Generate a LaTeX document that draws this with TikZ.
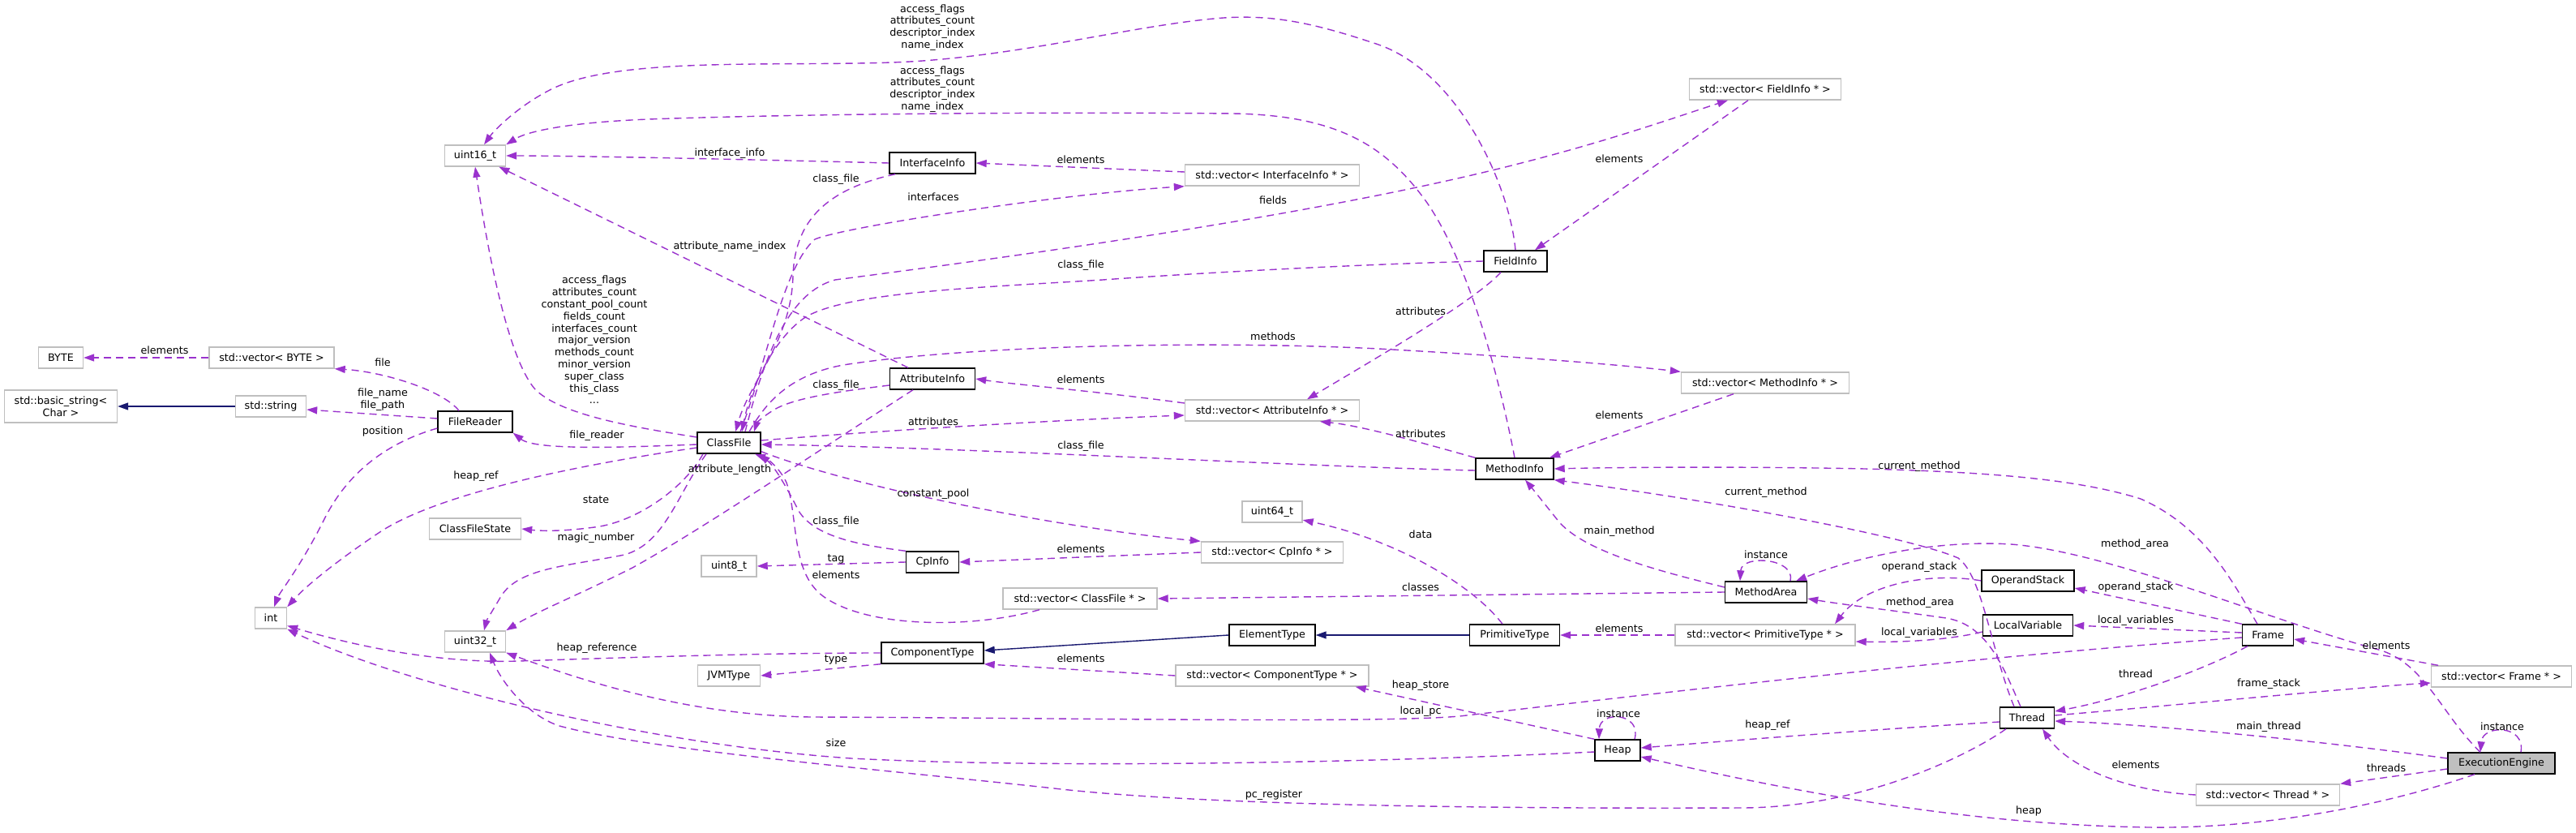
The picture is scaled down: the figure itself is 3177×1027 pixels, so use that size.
\documentclass[tikz,border=0pt]{standalone}
\usepackage{fontspec}
\usetikzlibrary{arrows.meta}
\newfontfamily\dvfont{DejaVu Sans}
\newcommand\lblfont{\dvfont\fontsize{12.7pt}{14.8pt}\selectfont}
\definecolor{depcol}{HTML}{9A32CD}
\definecolor{inhcol}{HTML}{191970}
\definecolor{greyb}{HTML}{BFBFBF}
\tikzset{
  cls/.style={draw=black, line width=1.4pt, minimum height=26pt, inner sep=0pt, font=\lblfont, fill=white},
  ext/.style={draw=greyb, line width=1.4pt, minimum height=26pt, inner sep=0pt, font=\lblfont, fill=white},
  dep/.style={draw=depcol, line width=1.4pt, dash pattern=on 9pt off 6pt, -{Triangle[length=13pt,width=9pt]}},
  inh/.style={draw=inhcol, line width=1.4pt, -{Triangle[length=13pt,width=9pt]}},
  elab/.style={font=\lblfont, inner sep=0pt, align=center, text=black}
}
\begin{document}
\begin{tikzpicture}[x=1pt,y=-1pt]
\useasboundingbox (0,0) rectangle (3177,1027);
% nodes
\node[ext, minimum width=75pt] (uint16) at (586,192) {uint16\_t};
\node[ext, minimum width=55pt] (BYTE) at (75,441) {BYTE};
\node[ext, minimum width=154pt] (vecBYTE) at (335,441) {std::vector< BYTE >};
\node[ext, minimum width=139pt, minimum height=40pt, align=center] (bstring) at (75,501) {std::basic\_string<\\Char >};
\node[ext, minimum width=87pt] (string) at (334,501) {std::string};
\node[cls, minimum width=92pt] (FileReader) at (586,520) {FileReader};
\node[ext, minimum width=113pt] (CFState) at (586,652) {ClassFileState};
\node[ext, minimum width=39pt] (int) at (334,762) {int};
\node[ext, minimum width=75pt] (uint32) at (586,791) {uint32\_t};
\node[cls, minimum width=78pt] (ClassFile) at (899,546) {ClassFile};
\node[ext, minimum width=68pt] (uint8) at (899,698) {uint8\_t};
\node[ext, minimum width=77pt] (JVMType) at (899,833) {JVMType};
\node[cls, minimum width=106pt] (InterfaceInfo) at (1150,201) {InterfaceInfo};
\node[cls, minimum width=105pt] (AttributeInfo) at (1150,467) {AttributeInfo};
\node[cls, minimum width=65pt] (CpInfo) at (1150,693) {CpInfo};
\node[cls, minimum width=126pt] (ComponentType) at (1150,805) {ComponentType};
\node[ext, minimum width=190pt] (vecClassFile) at (1332,738) {std::vector< ClassFile * >};
\node[ext, minimum width=215pt] (vecInterface) at (1569,216) {std::vector< InterfaceInfo * >};
\node[ext, minimum width=215pt] (vecAttr) at (1569,506) {std::vector< AttributeInfo * >};
\node[ext, minimum width=74pt] (uint64) at (1569,631) {uint64\_t};
\node[ext, minimum width=175pt] (vecCp) at (1569,681) {std::vector< CpInfo * >};
\node[cls, minimum width=106pt] (ElementType) at (1569,783) {ElementType};
\node[ext, minimum width=238pt] (vecComp) at (1569,833) {std::vector< ComponentType * >};
\node[cls, minimum width=78pt] (FieldInfo) at (1869,322) {FieldInfo};
\node[cls, minimum width=96pt] (MethodInfo) at (1868,578) {MethodInfo};
\node[cls, minimum width=111pt] (PrimitiveType) at (1868,783) {PrimitiveType};
\node[cls, minimum width=56pt] (Heap) at (1995,925) {Heap};
\node[ext, minimum width=187pt] (vecField) at (2177,110) {std::vector< FieldInfo * >};
\node[ext, minimum width=207pt] (vecMethod) at (2177,472) {std::vector< MethodInfo * >};
\node[cls, minimum width=101pt] (MethodArea) at (2178,730) {MethodArea};
\node[ext, minimum width=222pt] (vecPrim) at (2177,783) {std::vector< PrimitiveType * >};
\node[cls, minimum width=114pt] (OperandStack) at (2501,716) {OperandStack};
\node[cls, minimum width=111pt] (LocalVariable) at (2501,771) {LocalVariable};
\node[cls, minimum width=67pt] (Thread) at (2500,885) {Thread};
\node[cls, minimum width=63pt] (Frame) at (2797,783) {Frame};
\node[ext, minimum width=177pt] (vecThread) at (2797,980) {std::vector< Thread * >};
\node[ext, minimum width=173pt] (vecFrame) at (3085,834) {std::vector< Frame * >};
\node[cls, minimum width=132pt, fill=greyb] (EE) at (3085,941) {ExecutionEngine};
% edges
\draw[dep] (FieldInfo.north) .. controls (1862,230) and (1800,90) .. (1700,55) .. controls (1620,28) and (1570,18) .. (1509,22) .. controls (1400,30) and (1250,72) .. (1100,77) .. controls (950,82) and (760,70) .. (680,110) .. controls (640,130) and (610,160) .. ([xshift=11pt]uint16.north);
\draw[dep] (MethodInfo.north) .. controls (1852,480) and (1815,330) .. (1760,250) .. controls (1710,180) and (1650,142) .. (1520,140) .. controls (1300,138) and (1000,140) .. (800,147) .. controls (700,151) and (650,162) .. (uint16.north east);
\draw[dep] (InterfaceInfo.west) .. controls (900,196) and (700,192) .. (uint16.east);
\draw[dep] ([xshift=-30pt]AttributeInfo.north) -- (uint16.-25);
\draw[dep] (ClassFile.170) .. controls (770,525) and (690,510) .. (660,480) .. controls (625,440) and (600,300) .. (uint16.south);
\draw[dep] ([yshift=4pt]vecInterface.west) -- (InterfaceInfo.east);
\draw[dep] ([xshift=8pt]InterfaceInfo.south west) .. controls (1010,235) and (980,280) .. (978,340) .. controls (976,420) and (925,470) .. ([xshift=8pt]ClassFile.north);
\draw[dep] ([xshift=14pt]ClassFile.north) .. controls (945,450) and (965,330) .. (1005,295) .. controls (1040,280) and (1300,240) .. (vecInterface.south west);
\draw[dep] ([xshift=20pt]ClassFile.north) .. controls (945,430) and (975,360) .. (1030,345) .. controls (1300,310) and (1650,260) .. (1880,200) .. controls (1990,172) and (2080,140) .. ([xshift=-46pt]vecField.south);
\draw[dep] (FieldInfo.west) .. controls (1700,325) and (1500,335) .. (1360,345) .. controls (1200,355) and (1050,360) .. (995,390) .. controls (955,415) and (925,480) .. ([xshift=16pt]ClassFile.north);
\draw[dep] ([yshift=-8pt]AttributeInfo.west) .. controls (1040,482) and (980,490) .. (955,505) .. controls (940,514) and (933,522) .. ([xshift=31pt]ClassFile.north);
\draw[dep] ([xshift=25pt]ClassFile.north) .. controls (945,495) and (975,462) .. (1040,450) .. controls (1200,425) and (1500,420) .. (1700,430) .. controls (1880,440) and (2000,450) .. (vecMethod.north west);
\draw[dep] ([yshift=3pt]ClassFile.east) .. controls (1100,530) and (1300,518) .. ([yshift=-6pt]vecAttr.west);
\draw[dep] ([yshift=9pt]vecAttr.west) .. controls (1350,482) and (1250,474) .. (AttributeInfo.east);
\draw[dep] ([yshift=-2pt]MethodInfo.west) .. controls (1600,575) and (1200,552) .. ([yshift=-2pt]ClassFile.east);
\draw[dep] (CpInfo.north west) .. controls (1060,672) and (1005,662) .. (985,630) .. controls (970,600) and (955,575) .. ([xshift=-2pt]ClassFile.south east);
\draw[dep] ([xshift=-50pt]vecClassFile.south) .. controls (1200,775) and (1070,775) .. (1015,735) .. controls (975,705) and (985,640) .. (970,595) .. controls (962,578) and (948,566) .. ([xshift=32pt]ClassFile.south);
\draw[dep] (ClassFile.-15) .. controls (1050,600) and (1300,650) .. (vecCp.north west);
\draw[dep] (vecCp.west) -- (CpInfo.east);
\draw[dep] (CpInfo.west) -- (uint8.east);
\draw[dep] ([xshift=-24pt]AttributeInfo.south) .. controls (1010,555) and (870,650) .. (780,700) .. controls (710,735) and (660,755) .. (uint32.north east);
\draw[dep] ([xshift=-28pt]ClassFile.south) .. controls (835,610) and (820,670) .. (770,684) .. controls (700,698) and (640,700) .. (618,735) .. controls (608,752) and (600,765) .. ([xshift=11pt]uint32.north);
\draw[dep] ([yshift=-6pt]ClassFile.west) .. controls (700,575) and (540,610) .. (470,655) .. controls (410,695) and (375,725) .. (int.north east);
\draw[dep] ([yshift=-2pt]ClassFile.west) .. controls (760,552) and (660,555) .. (FileReader.south east);
\draw[dep] ([xshift=-32pt]ClassFile.south) .. controls (845,600) and (790,640) .. (740,649) .. controls (700,655) and (670,655) .. (CFState.east);
\draw[dep] ([xshift=-20pt]FileReader.north) .. controls (545,480) and (470,458) .. (vecBYTE.south east);
\draw[dep] (vecBYTE.west) -- (BYTE.east);
\draw[inh] (string.west) -- (bstring.east);
\draw[dep] ([yshift=4pt]FileReader.west) -- ([yshift=-4pt]string.east);
\draw[dep] ([yshift=-8pt]FileReader.west) .. controls (480,545) and (430,580) .. (400,640) .. controls (370,700) and (345,730) .. ([xshift=4pt]int.north);
\draw[dep] (ComponentType.west) .. controls (950,805) and (790,810) .. (640,815) .. controls (550,818) and (450,800) .. (int.-25);
\draw[dep] ([yshift=-2pt]Heap.west) .. controls (1700,940) and (1300,948) .. (1050,935) .. controls (800,918) and (500,845) .. (int.south east);
\draw[dep] (ComponentType.south west) -- (JVMType.east);
\draw[inh] (ElementType.west) -- ([yshift=3pt]ComponentType.east);
\draw[inh] (PrimitiveType.west) -- (ElementType.east);
\draw[dep] (vecComp.west) -- (ComponentType.south east);
\draw[dep] ([xshift=-15pt]PrimitiveType.north) .. controls (1815,720) and (1720,665) .. (uint64.-15);
\draw[dep] (vecPrim.west) -- (PrimitiveType.east);
\draw[dep] (MethodArea.west) -- (vecClassFile.east);
\draw[dep] ([xshift=30pt]MethodArea.north) .. controls (2215,688) and (2148,683) .. ([xshift=-32pt]MethodArea.north);
\draw[dep] ([yshift=6pt]MethodArea.west) .. controls (2050,705) and (1950,680) .. (1920,640) .. controls (1900,615) and (1888,600) .. ([xshift=13pt]MethodInfo.south);
\draw[dep] (MethodInfo.north west) .. controls (1750,545) and (1680,525) .. ([xshift=59pt]vecAttr.south);
\draw[dep] ([xshift=-39pt]vecMethod.south) -- ([xshift=43pt]MethodInfo.north);
\draw[dep] ([xshift=-18pt]FieldInfo.south) .. controls (1820,370) and (1700,440) .. ([xshift=43pt]vecAttr.north);
\draw[dep] ([xshift=-21pt]vecField.south) -- ([xshift=24pt]FieldInfo.north);
\draw[dep] ([xshift=-13pt]Frame.north) .. controls (2755,720) and (2720,650) .. (2640,615) .. controls (2560,590) and (2450,582) .. (2300,578) .. controls (2150,575) and (2000,576) .. (MethodInfo.east);
\draw[dep] ([xshift=-16pt]Thread.north) .. controls (2455,800) and (2445,710) .. (2415,688) .. controls (2350,660) and (2100,615) .. (MethodInfo.south east);
\draw[dep] ([xshift=-8pt]Thread.north) .. controls (2470,820) and (2450,770) .. (2400,762) .. controls (2330,752) and (2270,745) .. ([yshift=-8pt]MethodArea.east);
\draw[dep] ([xshift=-26pt]EE.north) .. controls (3010,880) and (2990,815) .. (2930,800) .. controls (2800,765) and (2600,680) .. (2480,671) .. controls (2380,665) and (2280,690) .. ([xshift=37pt]MethodArea.north);
\draw[dep] (Frame.north west) -- ([yshift=-9pt]OperandStack.east);
\draw[dep] ([yshift=3pt]Frame.west) -- (LocalVariable.east);
\draw[dep] ([yshift=-3pt]Frame.west) .. controls (2400,812) and (2000,860) .. (1800,883) .. controls (1700,892) and (1300,885) .. (1000,884) .. controls (850,882) and (720,840) .. (uint32.south east);
\draw[dep] ([xshift=-25pt]Frame.south) .. controls (2700,835) and (2600,865) .. ([yshift=8pt]Thread.east);
\draw[dep] ([yshift=3pt]Thread.east) .. controls (2700,868) and (2900,848) .. ([yshift=-8pt]vecFrame.west);
\draw[dep] ([xshift=-78pt]vecFrame.north) -- ([yshift=-5pt]Frame.east);
\draw[dep] ([yshift=6pt]EE.west) .. controls (2850,912) and (2650,893) .. ([yshift=-4pt]Thread.east);
\draw[dep] ([yshift=-7pt]EE.west) -- (vecThread.north east);
\draw[dep] (vecThread.west) .. controls (2620,975) and (2550,945) .. ([xshift=19pt]Thread.south);
\draw[dep] ([xshift=-33pt]EE.south) .. controls (2950,990) and (2800,1022) .. (2650,1020) .. controls (2450,1017) and (2250,985) .. ([yshift=-8pt]Heap.east);
\draw[dep] ([xshift=24pt]EE.north) .. controls (3115,893) and (3062,893) .. ([xshift=-26pt]EE.north);
\draw[dep] ([yshift=-5pt]Thread.west) .. controls (2300,900) and (2150,912) .. ([yshift=3pt]Heap.east);
\draw[dep] ([xshift=21pt]Heap.north) .. controls (2025,878) and (1973,876) .. ([xshift=-23pt]Heap.north);
\draw[dep] (Heap.north west) -- ([xshift=-17pt]vecComp.south east);
\draw[dep] ([xshift=-26pt]Thread.south) .. controls (2430,930) and (2300,995) .. (2150,996) .. controls (1900,997) and (1500,995) .. (1300,972) .. controls (1100,950) and (800,925) .. (690,895) .. controls (650,882) and (618,840) .. ([xshift=18pt]uint32.south);
\draw[dep] (OperandStack.west) .. controls (2380,705) and (2300,720) .. ([xshift=86pt]vecPrim.north);
\draw[dep] ([yshift=-8pt]LocalVariable.west) .. controls (2400,790) and (2340,792) .. ([yshift=-8pt]vecPrim.east);
% labels
\node[elab] (l1) at (1150,34) {access\_flags\\attributes\_count\\descriptor\_index\\name\_index};
\node[elab] (l2) at (1150,110) {access\_flags\\attributes\_count\\descriptor\_index\\name\_index};
\node[elab] (l3) at (900,189) {interface\_info};
\node[elab] (l4) at (900,304) {attribute\_name\_index};
\node[elab] (l5) at (733,419) {access\_flags\\attributes\_count\\constant\_pool\_count\\fields\_count\\interfaces\_count\\major\_version\\methods\_count\\minor\_version\\super\_class\\this\_class\\...};
\node[elab] (l6) at (1333,197) {elements};
\node[elab] (l7) at (1031,221) {class\_file};
\node[elab] (l8) at (1151,243) {interfaces};
\node[elab] (l9) at (1570,247) {fields};
\node[elab] (l10) at (1333,327) {class\_file};
\node[elab] (l11) at (1997,196) {elements};
\node[elab] (l12) at (1031,475) {class\_file};
\node[elab] (l13) at (1570,415) {methods};
\node[elab] (l14) at (1333,468) {elements};
\node[elab] (l15) at (1151,520) {attributes};
\node[elab] (l16) at (1333,550) {class\_file};
\node[elab] (l17) at (900,579) {attribute\_length};
\node[elab] (l18) at (1151,609) {constant\_pool};
\node[elab] (l19) at (1031,643) {class\_file};
\node[elab] (l20) at (1333,677) {elements};
\node[elab] (l21) at (1031,689) {tag};
\node[elab] (l22) at (1031,709) {elements};
\node[elab] (l23) at (472,447) {file};
\node[elab] (l24) at (203,432) {elements};
\node[elab] (l25) at (472,493) {file\_name\\file\_path};
\node[elab] (l26) at (472,532) {position};
\node[elab] (l27) at (736,537) {file\_reader};
\node[elab] (l28) at (587,587) {heap\_ref};
\node[elab] (l29) at (735,616) {state};
\node[elab] (l30) at (735,663) {magic\_number};
\node[elab] (l31) at (736,799) {heap\_reference};
\node[elab] (l32) at (1031,813) {type};
\node[elab] (l33) at (1333,812) {elements};
\node[elab] (l34) at (1031,916) {size};
\node[elab] (l35) at (1571,980) {pc\_register};
\node[elab] (l36) at (1752,384) {attributes};
\node[elab] (l37) at (1997,512) {elements};
\node[elab] (l38) at (1752,535) {attributes};
\node[elab] (l39) at (2367,575) {current\_method};
\node[elab] (l40) at (2178,607) {current\_method};
\node[elab] (l41) at (1752,659) {data};
\node[elab] (l42) at (1997,655) {main\_method};
\node[elab] (l43) at (2178,684) {instance};
\node[elab] (l44) at (2633,671) {method\_area};
\node[elab] (l45) at (1752,724) {classes};
\node[elab] (l46) at (1997,775) {elements};
\node[elab] (l47) at (1752,845) {heap\_store};
\node[elab] (l48) at (1752,877) {local\_pc};
\node[elab] (l49) at (1996,880) {instance};
\node[elab] (l50) at (2180,894) {heap\_ref};
\node[elab] (l51) at (2367,699) {operand\_stack};
\node[elab] (l52) at (2368,743) {method\_area};
\node[elab] (l53) at (2367,780) {local\_variables};
\node[elab] (l54) at (2634,724) {operand\_stack};
\node[elab] (l55) at (2634,765) {local\_variables};
\node[elab] (l56) at (2943,796) {elements};
\node[elab] (l57) at (2634,831) {thread};
\node[elab] (l58) at (2798,843) {frame\_stack};
\node[elab] (l59) at (2798,896) {main\_thread};
\node[elab] (l60) at (3086,896) {instance};
\node[elab] (l61) at (2634,943) {elements};
\node[elab] (l62) at (2943,947) {threads};
\node[elab] (l63) at (2502,1000) {heap};
\end{tikzpicture}
\end{document}
